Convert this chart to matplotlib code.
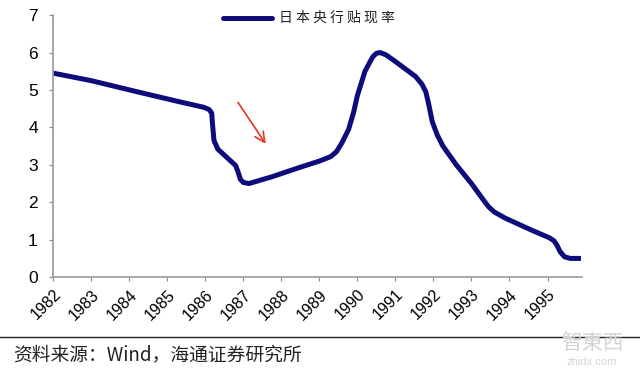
import matplotlib
matplotlib.use('Agg')
import matplotlib.pyplot as plt

plt.rcParams['font.family'] = ['Liberation Sans', 'Noto Sans CJK SC', 'DejaVu Sans']

# BOJ discount rate
years = [1982.0, 1983.0, 1984.3, 1985.3, 1985.95, 1986.1, 1986.17, 1986.19,
         1986.23, 1986.33, 1986.63, 1986.8, 1986.86, 1986.92, 1987.0, 1987.15,
         1987.75, 1988.45, 1989.0, 1989.3, 1989.45, 1989.6, 1989.77, 1989.9,
         1990.0, 1990.2, 1990.4, 1990.5, 1990.6, 1990.75, 1991.0, 1991.53,
         1991.7, 1991.8, 1991.88, 1991.97, 1992.1, 1992.25, 1992.6, 1993.0,
         1993.3, 1993.45, 1993.6, 1993.88, 1994.57, 1995.05, 1995.17, 1995.25,
         1995.33, 1995.45, 1995.6, 1995.88]
rate = [5.45, 5.25, 4.93, 4.69, 4.54, 4.48, 4.38, 4.1,
        3.65, 3.42, 3.14, 2.98, 2.82, 2.62, 2.53, 2.5,
        2.68, 2.92, 3.1, 3.22, 3.35, 3.6, 3.95, 4.4,
        4.85, 5.5, 5.88, 5.98, 6.0, 5.94, 5.76, 5.36,
        5.15, 4.95, 4.6, 4.15, 3.8, 3.5, 3.0, 2.5,
        2.08, 1.88, 1.74, 1.58, 1.26, 1.05, 0.97, 0.85,
        0.68, 0.54, 0.5, 0.5]
tick_years = list(range(1982, 1996))
series_name = "日本央行贴现率"
source_text = "资料来源：Wind，海通证券研究所"

fig = plt.figure(figsize=(6.4, 3.69), dpi=100)
ax = fig.add_axes([0.083, 0.249, 0.826, 0.71])

line, = ax.plot(years, rate, color='#0c0c7a', linewidth=3.6,
                solid_joinstyle='round', solid_capstyle='butt')

ax.set_xlim(1982, 1995.9)
ax.set_ylim(0, 7)
ax.set_xticks(tick_years)
ax.set_xticklabels([str(y) for y in tick_years], rotation=45, ha='right',
                   rotation_mode='anchor', fontsize=11.5)
ax.set_yticks(range(0, 8))
ax.tick_params(axis='y', labelsize=12.5, length=3, color='#888888', pad=8)
ax.tick_params(axis='x', length=3, color='#888888', pad=4)
for s in ['top', 'right']:
    ax.spines[s].set_visible(False)
for s in ['left', 'bottom']:
    ax.spines[s].set_color('#999999')
    ax.spines[s].set_linewidth(1.2)

# red arrow
ax.annotate('', xy=(1987.63, 3.5), xytext=(1986.82, 4.73),
            arrowprops=dict(arrowstyle='->', color='#e8331f', lw=1.2,
                            mutation_scale=18))

# legend drawn in figure space
fig.lines.append(plt.Line2D([223 / 640, 272 / 640], [1 - 18 / 369] * 2,
                            transform=fig.transFigure, color='#0c0c7a',
                            linewidth=3.6, solid_capstyle='round'))
fig.text(279 / 640, 1 - 18 / 369, " ".join(series_name),
         fontsize=10, va='center', ha='left',
         family=['Noto Sans CJK SC', 'DejaVu Sans'], color='#222222')

# footer
fig.lines.append(plt.Line2D([0, 1], [1 - 337 / 369] * 2,
                            transform=fig.transFigure, color='#222222',
                            linewidth=1.0))
fig.text(13 / 640, 1 - 355 / 369, source_text, fontsize=13.5, va='center',
         ha='left', family=['Noto Sans CJK SC', 'DejaVu Sans'], color='#222222')

# watermark
fig.text(592 / 640, 1 - 343 / 369, "智東西", fontsize=15, ha='center', va='center',
         family=['Noto Sans CJK TC', 'DejaVu Sans'], color='#d4d4d4')
fig.text(592 / 640, 1 - 362 / 369, "zhidx.com", fontsize=8, ha='center',
         va='center', color='#d4d4d4')

fig.savefig('out.png', dpi=100)
